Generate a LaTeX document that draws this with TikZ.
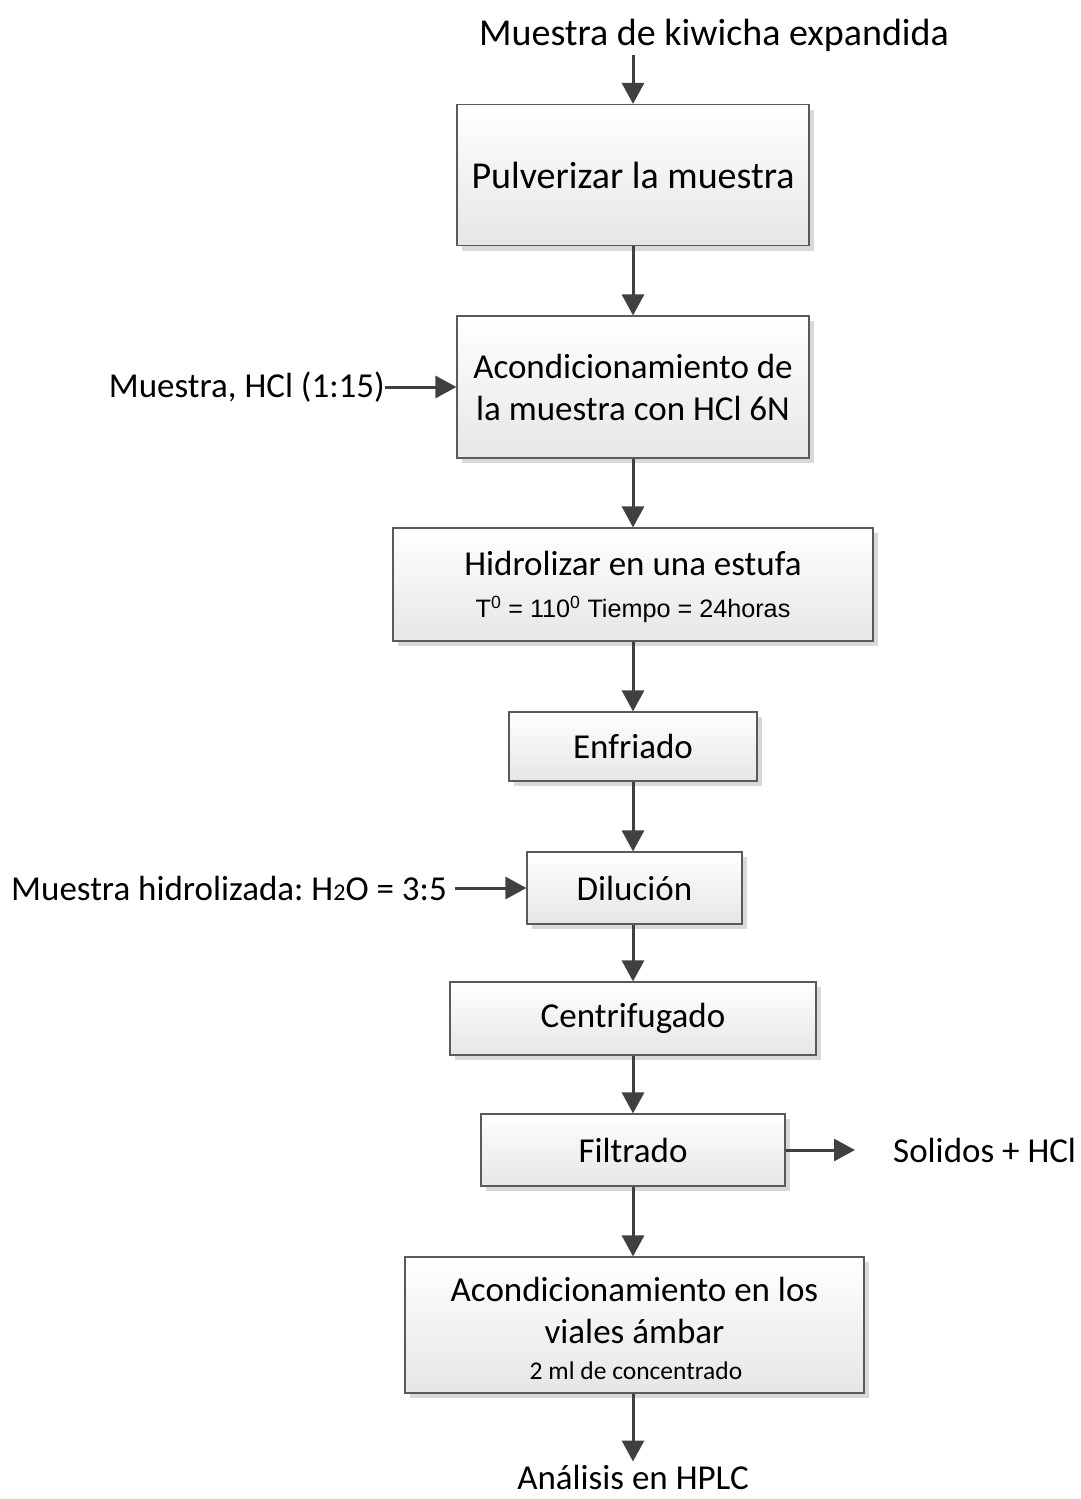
\documentclass[tikz,border=0pt]{standalone}
\usepackage{fontspec}
\setmainfont{Carlito}
\newfontfamily\arialf{Liberation Sans}
\usetikzlibrary{arrows.meta,shadows}
\definecolor{boxborder}{HTML}{5A5A5A}
\definecolor{boxbottom}{HTML}{E6E6E6}
\definecolor{shadowgray}{HTML}{D9D9D9}
\definecolor{arrowgray}{HTML}{404040}
\frenchspacing
\begin{document}
\begin{tikzpicture}[x=1pt,y=-1pt,
  box/.style={draw=boxborder, line width=1.2pt, top color=white, bottom color=boxbottom,
    inner sep=0pt, align=center, font=\fontsize{35}{42}\selectfont,
    drop shadow={shadow xshift=5pt, shadow yshift=-5pt, fill=shadowgray, opacity=1}},
  lbl/.style={inner sep=0pt, font=\fontsize{35}{42}\selectfont},
  big/.style={font=\fontsize{38}{42}\selectfont},
  arr/.style={draw=arrowgray, line width=3pt, -{Triangle[length=21pt,width=22pt]}},
  small/.style={font=\arialf\fontsize{25.2}{28}\selectfont}]
\useasboundingbox (0,0) rectangle (1081,1499);

\node[lbl, big] (top) at (714,35) {Muestra de kiwicha expandida};
\coordinate (topend) at (633,55);

\node[box, big, minimum width=352, minimum height=141] (b1) at (633,175) {Pulverizar la muestra};
\node[box, minimum width=352, minimum height=142] (b2) at (633,387) {Acondicionamiento de\\la muestra con HCl 6N};
\node[box, minimum width=480, minimum height=113] (b3) at (633,584.5) {};
\node[lbl] (b3a) at (633,563) {Hidrolizar en una estufa};
\node[small, inner sep=0pt] (b3b) at (633,609) {T\textsuperscript{0} = 110\textsuperscript{0} Tiempo = 24horas};
\node[box, minimum width=248, minimum height=69] (b4) at (633,746.5) {Enfriado};
\node[box, minimum width=215, minimum height=72] (b5) at (634.5,888) {Diluci\'on};
\node[box, minimum width=366, minimum height=73] (b6) at (633,1018.5) {Centrifugado};
\node[box, minimum width=304, minimum height=72] (b7) at (633,1150) {Filtrado};
\node[box, minimum width=459, minimum height=136] (b8) at (634.5,1325) {};
\node[lbl] (b8a) at (634.5,1289) {Acondicionamiento en los};
\node[lbl] (b8b) at (634.5,1331) {viales \'ambar};
\node[inner sep=0pt, font=\fontsize{25.5}{28}\selectfont] (b8c) at (636,1371) {2 ml de concentrado};

\node[lbl, anchor=east] (l1) at (385,387) {Muestra, HCl (1:15)};
\node[lbl, anchor=east] (l2) at (447,888) {Muestra hidrolizada: H{\fontsize{24}{28}\selectfont 2}O = 3:5};
\node[lbl, anchor=west] (r1) at (893,1150) {Solidos + HCl};
\node[lbl] (bot) at (633,1477) {An\'alisis en HPLC};

\draw[arr] (topend) -- (b1.north);
\draw[arr] (b1.south) -- (b2.north);
\draw[arr] (b2.south) -- (b3.north);
\draw[arr] (b3.south) -- (b4.north);
\draw[arr] (b4.south) -- (b5.north -| b4.south);
\draw[arr] (b5.south -| b4.south) -- (b6.north);
\draw[arr] (b6.south) -- (b7.north);
\draw[arr] (b7.south) -- (b8.north -| b7.south);
\draw[arr] (b8.south -| b7.south) -- ([yshift=3pt]bot.north);
\draw[arr] (l1.east) -- (b2.west);
\draw[arr, shorten <=8pt] (l2.east) -- (b5.west);
\draw[arr, shorten >=38pt] (b7.east) -- (r1.west);
\end{tikzpicture}
\end{document}
